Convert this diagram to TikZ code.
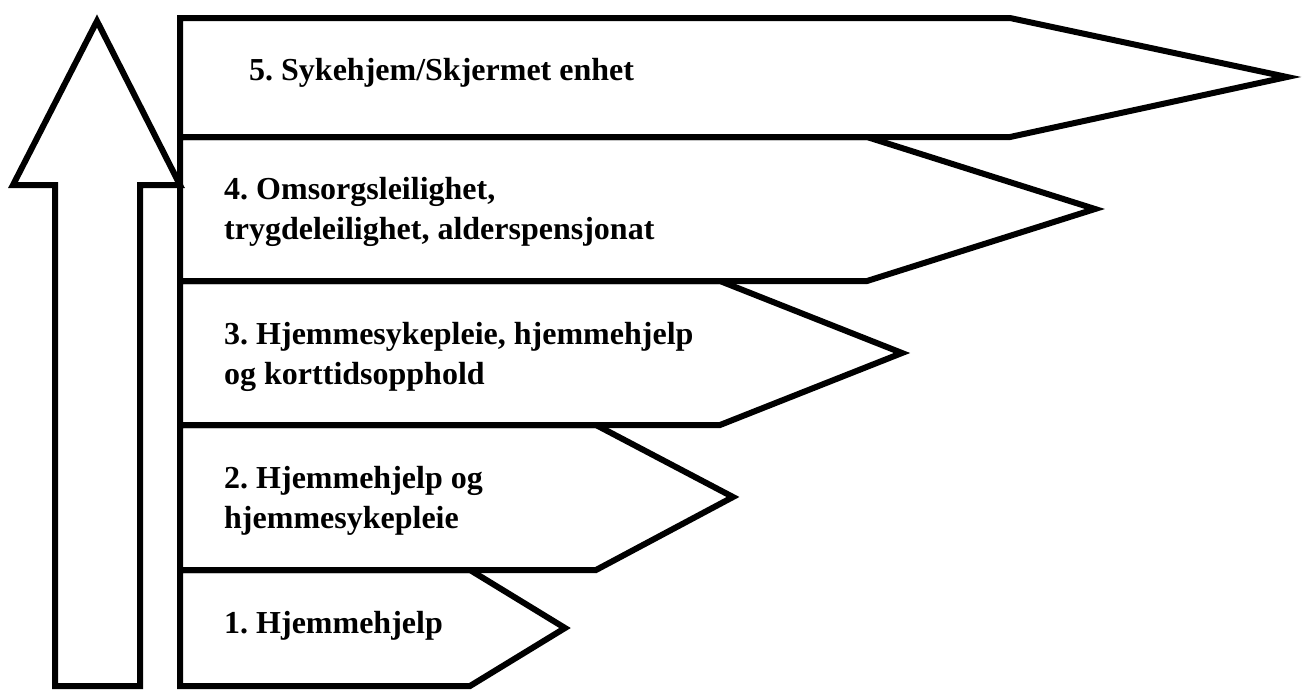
\documentclass[tikz,border=0pt]{standalone}
\usepackage{fontspec}
\setmainfont{Liberation Serif}
\frenchspacing
\begin{document}
\begin{tikzpicture}[x=1pt,y=-1pt,
  shape line/.style={draw=black,line width=6pt,line join=miter,miter limit=20},
  lbl/.style={anchor=base west,inner sep=0pt,align=left,
    font=\fontsize{32}{40}\selectfont\bfseries}]
\useasboundingbox (0,0) rectangle (1302,691);
% upward arrow
\draw[shape line] (55,686) -- (55,185) -- (13,185) -- (97,21) -- (180,185) -- (140,185) -- (140,686) -- cycle;
% panels
\draw[shape line] (180,18) -- (1010,18) -- (1287,77) -- (1010,137) -- (180,137) -- cycle;
\draw[shape line] (180,137) -- (867,137) -- (1095,209) -- (867,281) -- (180,281) -- cycle;
\draw[shape line] (180,281) -- (720,281) -- (902,353) -- (720,425) -- (180,425) -- cycle;
\draw[shape line] (180,425) -- (596,425) -- (733,497) -- (596,570) -- (180,570) -- cycle;
\draw[shape line] (180,570) -- (470,570) -- (565,628) -- (470,686) -- (180,686) -- cycle;
% labels (base anchor = baseline of the last line)
\node[lbl] (t5) at (249,80) {5. Sykehjem/Skjermet enhet};
\node[lbl] (t4) at (224,239) {4. Omsorgsleilighet,\\trygdeleilighet, alderspensjonat};
\node[lbl] (t3) at (224,384) {3. Hjemmesykepleie, hjemmehjelp\\og korttidsopphold};
\node[lbl] (t2) at (224,528) {2. Hjemmehjelp og\\hjemmesykepleie};
\node[lbl] (t1) at (224,633) {1. Hjemmehjelp};
\end{tikzpicture}
\end{document}
